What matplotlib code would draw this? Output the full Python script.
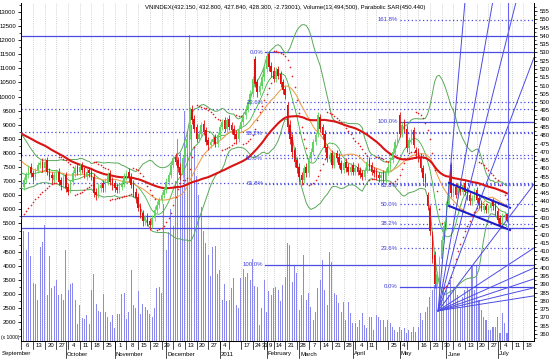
import numpy as np
import pandas as pd
import matplotlib
matplotlib.use("Agg")
import matplotlib.pyplot as plt
import matplotlib.transforms as mtrans
from matplotlib.ticker import MultipleLocator

plt.rcParams['font.family'] = ['Liberation Sans', 'DejaVu Sans']

# HOSE trading days shown on the chart (Tet 2011 and public holidays removed)
holidays = ["2011-01-03", "2011-02-01", "2011-02-02", "2011-02-03", "2011-02-04",
            "2011-02-07", "2011-02-08", "2011-04-12", "2011-05-02", "2011-05-03"]
days = pd.bdate_range("2010-09-06", "2011-07-07")
days = days[~days.isin(pd.to_datetime(holidays))]
future_days = pd.bdate_range("2011-07-08", "2011-07-29")

# closes before the first bar, only used to warm up the averages
early_close = [491, 493, 495, 494, 496, 497, 498, 496, 495, 494, 496, 498, 499, 497, 495,
               493, 491, 490, 492, 494, 495, 493, 491, 489, 488, 486, 487, 485, 483, 481,
               480, 479, 477, 476, 474, 472, 471, 469, 467, 465, 463, 461, 459, 457, 456,
               455, 456, 458, 460, 462]

vn_open = [465, 449, 453, 456, 461, 457, 455, 459, 462, 464, 460, 465, 458, 456, 453, 455, 458, 453, 450,
           456, 449, 446, 452, 457, 461, 458, 462, 460, 455, 459, 458, 455, 446, 444, 448, 451, 448, 452, 457, 453,
           451, 449, 447, 449, 451, 455, 458, 455, 451, 446, 443, 437, 433, 428, 431, 428, 426, 430, 435, 438, 441, 444,
           447, 452, 456, 462, 467, 465, 461, 456, 466, 472, 480, 496, 490, 485, 478, 481, 487, 483, 477, 474, 476, 479, 475,
           480, 485, 489, 484, 490, 486, 484, 481, 478, 484, 488, 492, 496, 500, 505, 526, 512, 506, 510, 515,
           520, 529, 522, 519, 514, 520, 517, 512, 508, 498, 486, 479, 471, 465,
           461, 456, 453, 461, 457, 466, 470, 476, 481, 491, 485, 481, 473, 466, 469, 462, 469, 467, 463, 459, 464, 461, 458,
           462, 458, 461, 459, 457, 455, 459, 465, 462, 459, 458, 456, 454, 457, 453, 458, 461, 465, 470, 476,
           492, 481, 488, 484, 472, 477, 483, 471, 470, 467, 460, 455, 444, 436, 420, 408, 390, 396, 405, 417,
           425, 438, 462, 445, 449, 444, 450, 446, 451, 447, 444, 440, 442, 447, 442, 439, 435, 437, 435, 436, 440, 438,
           434, 430, 426, 431, 432.15]
vn_high = [467, 455, 458, 462, 463, 459, 460, 464, 465, 466, 466, 467, 460, 458, 458, 459, 460, 455, 457,
           458, 451, 453, 459, 462, 463, 463, 464, 461, 460, 461, 460, 457, 448, 451, 452, 453, 454, 458, 459, 455,
           453, 451, 451, 453, 457, 459, 460, 457, 453, 448, 445, 439, 435, 432, 433, 430, 432, 437, 440, 443, 446, 449,
           454, 458, 464, 468, 469, 467, 463, 468, 474, 481, 497, 498, 492, 487, 483, 488, 489, 485, 479, 478, 480, 481, 482,
           487, 490, 491, 491, 492, 488, 486, 483, 486, 490, 494, 498, 502, 507, 516, 528, 514, 512, 517, 522,
           531, 531, 524, 521, 521, 522, 519, 514, 510, 500, 489, 481, 473, 467,
           463, 458, 462, 463, 468, 472, 478, 482, 494, 493, 487, 483, 475, 470, 471, 470, 471, 469, 465, 465, 466, 463, 463,
           464, 462, 463, 461, 459, 461, 466, 467, 464, 461, 460, 458, 458, 459, 460, 463, 467, 472, 478, 481,
           494, 488, 490, 486, 479, 484, 485, 473, 472, 469, 462, 457, 446, 438, 422, 410, 398, 407, 419, 428,
           440, 454, 464, 450, 451, 451, 452, 452, 453, 449, 446, 444, 448, 449, 444, 441, 439, 439, 438, 441, 442, 440,
           436, 432, 433, 434, 432.8]
vn_low = [448, 447, 451, 454, 455, 452, 453, 457, 460, 458, 458, 456, 453, 451, 451, 453, 450, 447, 448,
          446, 444, 445, 450, 455, 456, 456, 457, 454, 453, 455, 453, 443, 441, 442, 446, 446, 446, 450, 450, 447,
          446, 445, 445, 447, 449, 453, 452, 448, 443, 439, 434, 430, 425, 426, 425, 423, 424, 428, 433, 436, 439, 442,
          445, 450, 454, 460, 462, 458, 453, 454, 464, 470, 478, 487, 482, 476, 476, 479, 480, 474, 471, 472, 474, 473, 473,
          478, 483, 482, 482, 483, 481, 478, 475, 476, 482, 486, 490, 494, 498, 503, 509, 503, 504, 508, 513,
          518, 519, 515, 512, 512, 514, 509, 505, 502, 482, 475, 467, 461, 457,
          452, 450, 451, 455, 455, 464, 468, 474, 479, 482, 478, 470, 464, 464, 460, 460, 464, 460, 457, 457, 458, 456, 456,
          456, 456, 456, 454, 453, 453, 457, 459, 456, 455, 453, 452, 452, 451, 451, 456, 459, 463, 468, 474,
          479, 479, 482, 470, 470, 475, 472, 467, 464, 458, 452, 449, 435, 420, 403, 388, 388, 394, 403, 415,
          423, 436, 443, 443, 442, 442, 444, 444, 444, 441, 438, 438, 440, 439, 436, 434, 433, 433, 433, 434, 435, 432,
          427, 424, 424, 429, 427.84]
vn_close = [450, 453, 456, 460, 457, 455, 459, 462, 463, 460, 464, 458, 455, 454, 456, 457, 452, 450, 455,
            448, 446, 452, 457, 460, 458, 461, 459, 456, 458, 457, 455, 445, 444, 449, 450, 448, 452, 456, 452, 450,
            448, 447, 449, 451, 455, 457, 454, 450, 445, 442, 436, 432, 428, 430, 427, 426, 430, 435, 438, 441, 444, 447,
            452, 456, 462, 466, 464, 460, 456, 466, 472, 478, 494, 489, 484, 478, 481, 486, 482, 476, 474, 476, 478, 475, 480,
            485, 488, 484, 489, 485, 483, 480, 478, 484, 488, 492, 496, 500, 505, 514, 511, 506, 510, 515, 520,
            528, 521, 518, 514, 519, 516, 511, 507, 504, 485, 478, 470, 464, 460,
            455, 453, 460, 457, 466, 470, 476, 480, 492, 484, 480, 472, 466, 468, 462, 468, 466, 462, 459, 463, 460, 458, 461,
            458, 460, 458, 456, 455, 459, 464, 461, 458, 457, 455, 454, 456, 453, 458, 461, 465, 470, 476, 478,
            481, 486, 484, 472, 477, 482, 474, 469, 466, 460, 454, 452, 437, 422, 405, 390, 396, 405, 417, 425,
            438, 452, 445, 448, 444, 449, 446, 450, 446, 443, 440, 442, 446, 441, 438, 436, 437, 435, 436, 439, 437, 434,
            429, 426, 431, 432, 428.3]

# volume in thousands of shares
volume = [5200, 5250, 4550, 5200, 4350, 3400, 3350, 2800, 4650, 4850,
          5450, 2950, 4350, 3200, 3300, 3500, 2950, 3000, 2800, 4550,
          3150, 3350, 3400, 2800, 1950, 2600, 2150, 2100, 2250, 1950,
          3150, 3700, 2650, 2400, 2350, 3000, 2350, 2200, 2000, 2250,
          1800, 2300, 2300, 3000, 3050, 2100, 2350, 3850, 2600, 2500,
          3100, 2300, 2650, 2550, 2450, 2300, 2200, 2500, 3200, 3250, 3050,
          6200, 4550, 5200, 6000, 5400, 7000, 8500, 8000, 6800, 9500, 8700, 12200, 9000, 8200, 7200, 6500,
          6100, 5250, 4800, 4400, 3650, 4650, 4700, 3700, 3850, 2800, 3350, 2750, 2800, 3200, 3550, 2600, 2500,
          3550, 3900, 3600, 3750, 3500, 4250, 3300, 3250, 1900, 2500, 3500, 2350, 3100, 2950, 3200, 3250, 3150, 2750,
          3320, 3600, 4810, 4740, 3430, 3990, 3740, 2430, 2960, 4380,
          2790, 3040, 2540, 2080, 2360, 3210, 3500, 4200, 3140, 2610,
          4490, 4140, 3040, 2960, 2680, 2360, 2720, 2080, 2720, 2330,
          1970, 1970, 1830, 2080, 2330, 1900, 1800, 2180, 2180, 1720,
          2260, 2180, 2080, 2080, 1830, 2080, 1970, 1830, 1720, 1650,
          1830, 1720, 1800, 1620, 1720, 1650, 1830, 1650, 1830, 2330,
          2080, 2360, 2540, 2890, 3140, 3320, 3600, 3850, 2790, 3250,
          3140, 2960, 3500, 3210, 3140, 2960, 2540, 2890, 3140, 3250,
          3140, 4000, 3140, 4000, 2790, 2430, 2180, 2080, 1720, 1720,
          1830, 1830, 2180, 1620, 2330, 1970, 1620]

# drawn objects: fibonacci sets, horizontal levels, fan, channel
fib_levels = [0.0, 23.6, 38.2, 50.0, 61.8, 100.0, 161.8]
fib_a = (388.4, 488.0)      # 0% and 100% of the right-hand set
fib_b = (530.2, 401.7)      # 0% and 100% of the left-hand set
dotted_levels = [495.9, 482.0, 468.1, 451.2]
solid_levels = [540.0, 431.2, 424.0]
fan_origin = (178.5, 374.0)
fan_slopes = [16.2, 7.96, 5.58, 3.72, 1.86, 0.924, 0.631, 0.469, 0.338, 0.22]
channel_x = [183.2, 209.3]
channel_top = [451.2, 436.2]
channel_bottom = [437.3, 422.8]
sar_start = (430.0, 467.0, 0.06)   # SAR, extreme point and step on the first bar

n = len(vn_close)
xi = np.arange(n)
o = np.array(vn_open, float)
h = np.array(vn_high, float)
l = np.array(vn_low, float)
c = np.array(vn_close, float)

full = pd.Series(early_close + vn_close, dtype=float)
ma50 = full.rolling(50).mean().values[-n:]
ma20 = full.rolling(20).mean().values[-n:]
ma10 = full.rolling(10).mean().values[-n:]
sd20 = full.rolling(20).std(ddof=0).values[-n:]
bb_up = ma20 + 2 * sd20
bb_dn = ma20 - 2 * sd20


def parabolic_sar(high, low, start, step=0.02, max_step=0.2):
    sar = np.zeros(len(high))
    up = True
    sar[0], ep, af = start
    for i in range(1, len(high)):
        s = sar[i - 1] + af * (ep - sar[i - 1])
        if up:
            s = min(s, low[i - 1], low[max(i - 2, 0)])
            if low[i] < s:
                up, s, ep, af = False, ep, low[i], step
            elif high[i] > ep:
                ep, af = high[i], min(af + step, max_step)
        else:
            s = max(s, high[i - 1], high[max(i - 2, 0)])
            if high[i] > s:
                up, s, ep, af = True, ep, high[i], step
            elif low[i] < ep:
                ep, af = low[i], min(af + step, max_step)
        sar[i] = s
    return sar


sar = parabolic_sar(h, l, sar_start)

W, H = 557, 360
fig = plt.figure(figsize=(W / 100, H / 100), dpi=100)
left, right, top, bottom = 21, 534, 3, 341
ax_v = fig.add_axes([left / W, 1 - bottom / H, (right - left) / W, (bottom - top) / H])
ax = ax_v.twinx()
xmax = 219.6
ax_v.set_xlim(-0.2, xmax)

# weekly grid
all_days = days.append(future_days)
pos = {d: k for k, d in enumerate(all_days)}
extra_ticks = [pd.Timestamp("2011-01-04"), pd.Timestamp("2011-02-09"), pd.Timestamp("2011-05-04")]
mondays = [d for d in all_days if (d.weekday() == 0 or d in extra_ticks) and pos[d] <= xmax]
week_x = [pos[d] for d in mondays]
ax_v.vlines(week_x, 0, 20000, colors='#c4c4c4', linestyles=(0, (1, 1.5)), lw=0.6, zorder=0)

# volume
ax_v.bar(xi, volume, width=0.5, color='#8a8aee', lw=0, zorder=1)
ax_v.set_ylim(1333, 13319)
ax_v.set_yticks(range(2000, 13001, 500))
ax_v.yaxis.set_minor_locator(MultipleLocator(250))
ax_v.tick_params(axis='y', labelsize=4.3, length=2.5, pad=1.2, width=0.6)
ax_v.tick_params(axis='y', which='minor', length=1.3, width=0.5)
ax_v.set_xticks([])

# price
ax.set_ylim(355.8, 559.8)
ax.set_yticks(range(360, 556, 5))
ax.yaxis.set_minor_locator(MultipleLocator(2.5))
ax.tick_params(axis='y', labelsize=4.3, length=2.5, pad=1.5, width=0.6)
ax.tick_params(axis='y', which='minor', length=1.3, width=0.5)
for a in (ax, ax_v):
    a.spines['top'].set_visible(False)
    for s in ('left', 'right', 'bottom'):
        a.spines[s].set_linewidth(0.7)

line_blue = '#4b4be6'
for lev in solid_levels:
    ax.plot([-0.2, xmax], [lev, lev], color=line_blue, lw=0.9, zorder=2)
for lev in dotted_levels:
    ax.plot([-0.2, xmax], [lev, lev], color=line_blue, lw=0.9, ls=(0, (1, 2)), zorder=2)


def fib_set(p0, p100, levels, x_start, label_x):
    for f in levels:
        p = p0 + (p100 - p0) * f / 100
        ls = '-' if f in (0.0, 100.0) else (0, (1, 2))
        ax.plot([x_start, xmax], [p, p], color=line_blue, lw=0.9, ls=ls, zorder=2)
        ax.text(label_x, p, f"{f:.1f}%", color='#3a3ad8', fontsize=4.3,
                ha='right', va='center', zorder=6)


fib_set(fib_b[0], fib_b[1], [f for f in fib_levels if f <= 100], 104.4, 103.6)
fib_set(fib_a[0], fib_a[1], fib_levels, 162.2, 161.2)

# indicators
ax.plot(xi, bb_up, color='#5aa85a', lw=0.7, zorder=3)
ax.plot(xi, bb_dn, color='#5aa85a', lw=0.7, zorder=3)
ax.plot(xi, ma10, color='#3cb43c', lw=0.6, zorder=3)
ax.plot(xi, ma20, color='#f0a050', lw=0.8, zorder=3)
ax.plot(xi, ma50, color='#d81414', lw=1.5, zorder=3)

# candles
up = c >= o
col = np.where(up, '#5fd35f', '#e01010')
ax.vlines(xi, l, h, colors=col, lw=0.6, zorder=4)
body = np.maximum(np.abs(c - o), 0.6)
ax.bar(xi, body, bottom=np.minimum(o, c), width=0.62, color=col, lw=0, zorder=4)

# parabolic SAR
ax.scatter(xi, sar, s=1.4, color='#e02020', lw=0, zorder=5)

# gann fan and channel
fx = np.array([fan_origin[0], xmax])
for sl in fan_slopes:
    ax.plot(fx, fan_origin[1] + sl * (fx - fan_origin[0]), color=line_blue, lw=0.7, zorder=5)
ax.plot(channel_x, channel_top, color='#1c1cc8', lw=1.5, zorder=5)
ax.plot(channel_x, channel_bottom, color='#1c1cc8', lw=1.5, zorder=5)
ax.axvline(208.4, color='#6464ee', lw=0.8, zorder=5)
ax.set_xlim(-0.2, xmax)

# title
fig.text(145 / W, 1 - 7 / H,
         "VNINDEX(432.150, 432.800, 427.840, 428.300, -2.73001), Volume(13,494,500), Parabolic SAR(450.440)",
         fontsize=4.3, ha='left', va='center')
fig.text(1 / W, 1 - 338 / H, "(x 1000)", fontsize=3.6, ha='left', va='center')

# date band
tr = mtrans.blended_transform_factory(ax.transData, fig.transFigure)
hidden = {pd.Timestamp("2011-01-10"), pd.Timestamp("2011-04-18"), pd.Timestamp("2011-05-09")}
for k, d in enumerate(mondays):
    x0 = pos[d]
    ax.plot([x0, x0], [1 - 341 / H, 1 - 349 / H], transform=tr, color='k', lw=0.5, clip_on=False)
    if d in hidden:
        continue
    x1 = pos[mondays[k + 1]] if k + 1 < len(mondays) else xmax
    ax.text((x0 + x1) / 2, 1 - 345.5 / H, str(d.day), transform=tr, fontsize=4.3,
            ha='center', va='center', clip_on=False)
month_names = ["September", "October", "November", "December", "2011", "February",
               "March", "April", "May", "June", "July"]
month_start = [-8.8] + [pos[d] for d in [pd.Timestamp("2010-10-01"), pd.Timestamp("2010-11-01"),
                                           pd.Timestamp("2010-12-01"), pd.Timestamp("2011-01-04"),
                                           pd.Timestamp("2011-02-09"), pd.Timestamp("2011-03-01"),
                                           pd.Timestamp("2011-04-01"), pd.Timestamp("2011-05-04"),
                                           pd.Timestamp("2011-06-01"), pd.Timestamp("2011-07-01")]]
for name, x0 in zip(month_names, month_start):
    if x0 > 0:
        ax.plot([x0, x0], [1 - 341 / H, 1 - 358 / H], transform=tr, color='k', lw=0.5, clip_on=False)
    ax.text(x0 + 0.5, 1 - 354 / H, name, transform=tr, fontsize=4.3, ha='left', va='center',
            clip_on=False)

fig.savefig("out.png", dpi=100)
